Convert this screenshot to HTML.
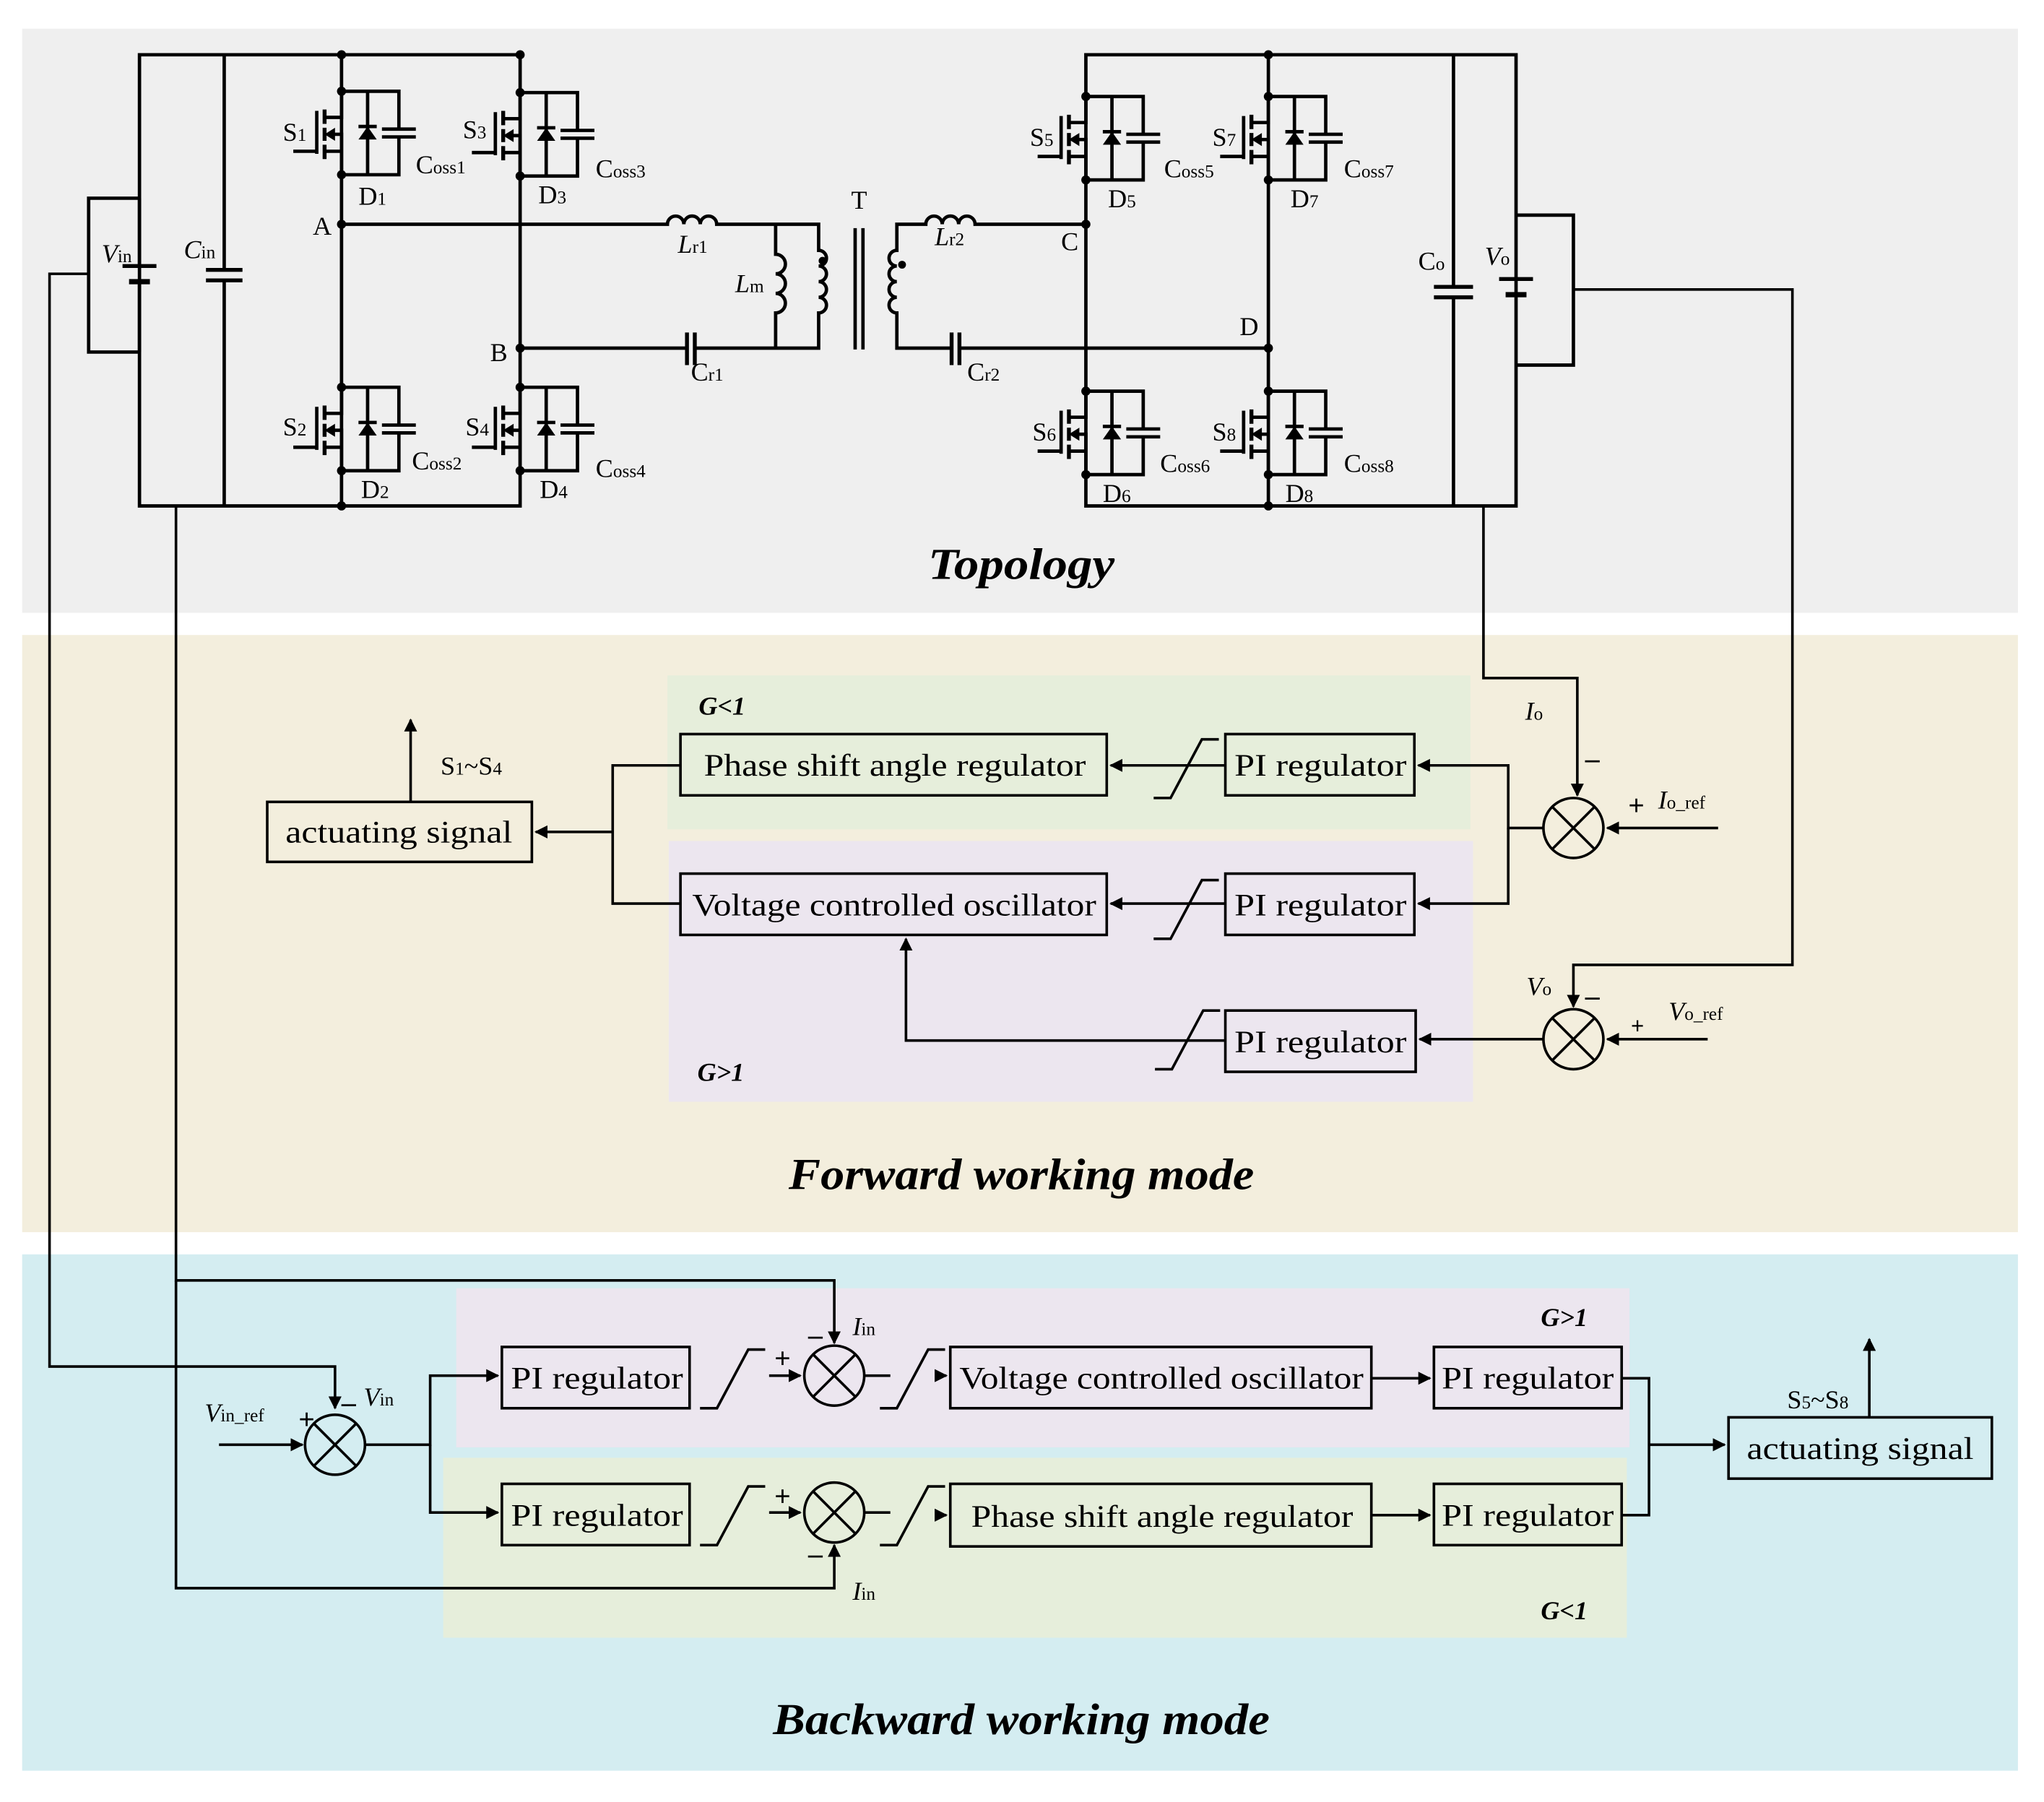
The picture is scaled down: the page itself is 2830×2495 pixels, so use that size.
<!DOCTYPE html>
<html><head><meta charset="utf-8"><style>
html,body{margin:0;padding:0;background:#fff}
svg{display:block}
text{font-family:"Liberation Serif",serif;fill:#000}
</style></head><body>
<svg xmlns="http://www.w3.org/2000/svg" width="2830" height="2495" viewBox="0 0 1568 1382" preserveAspectRatio="none">
<defs>
<marker id="ar" viewBox="0 0 10 10" refX="9" refY="5" markerWidth="5" markerHeight="5" orient="auto" markerUnits="strokeWidth"><path d="M0,0 L10,5 L0,10 z" fill="#000"/></marker>
<g id="sw" fill="none" stroke="#000" stroke-width="2.6">
<path d="M0,0 V20 H-13 M-13,46 H0 V64 M-8,33 H0 V46 M-19,15 V48 M-19,46 H-37"/>
<path d="M-13,14 V25 M-13,28 V38 M-13,41 V52" stroke-width="3"/>
<polygon points="-13,33 -5,28 -5,38" fill="#000" stroke="none"/>
<path d="M0,0 H44 V29 M44,35 V64 H0 M20,0 V64 M31,29 H57 M31,35 H57 M13,27 H27"/>
<polygon points="13,37 27,37 20,27" fill="#000" stroke="none"/>
<circle cx="0" cy="0" r="3.5" fill="#000" stroke="none"/>
<circle cx="0" cy="64" r="3.5" fill="#000" stroke="none"/>
</g>
<g id="lim" fill="none" stroke="#000" stroke-width="2"><path d="M0,45 H13 L37,0 H50"/></g>
</defs>
<rect width="1568" height="1382" fill="#fff"/>
<rect x="17" y="22" width="1531" height="448" fill="#efefef"/>
<rect x="17" y="487" width="1531" height="458" fill="#f3eedd"/>
<rect x="17" y="962" width="1531" height="396" fill="#d4edf1"/>
<rect x="512" y="518" width="616" height="118" fill="#e6eedb"/>
<rect x="513" y="645" width="617" height="200" fill="#ece6ef"/>
<rect x="350" y="988" width="900" height="122" fill="#ece6ef"/>
<rect x="340" y="1118" width="908" height="138" fill="#e6eedb"/>

<g fill="none" stroke="#000" stroke-width="2.6">
<path d="M107,42 H399 V388 H107 Z M172,42 V207 M172,215 V388 M262,42 V388"/>
<path d="M158,207 H186 M158,215 H186" stroke-width="3"/>
<path d="M107,152 H68 V270 H107 M107,152 V204 M107,216 V270"/>
<path d="M94,204 H120" stroke-width="3"/><path d="M99,216 H115" stroke-width="4"/>
<path d="M262,172 H512 a6.3,6.3 0 0 1 12.6,0 a6.3,6.3 0 0 1 12.6,0 a6.3,6.3 0 0 1 12.6,0 H628 V192 a6,6 0 0 1 0,12 a6,6 0 0 1 0,12 a6,6 0 0 1 0,12 a6,6 0 0 1 0,12 V267 H533 M527,267 H399"/>
<path d="M527,255 V280 M533,255 V280" stroke-width="3"/>
<path d="M595,172 V195 a7.5,7.5 0 0 1 0,15 a7.5,7.5 0 0 1 0,15 a7.5,7.5 0 0 1 0,15 V267"/>
<path d="M656,175 V268 M662,175 V268"/>
<path d="M833,172 H748 a6.3,6.3 0 0 0 -12.6,0 a6.3,6.3 0 0 0 -12.6,0 a6.3,6.3 0 0 0 -12.6,0 H688 V192 a6,6 0 0 0 0,12 a6,6 0 0 0 0,12 a6,6 0 0 0 0,12 a6,6 0 0 0 0,12 V267 H730 M736,267 H973"/>
<path d="M730,255 V280 M736,255 V280" stroke-width="3"/>
<path d="M833,42 H1163 V388 H833 Z M973,42 V388 M1115,42 V220 M1115,228 V388"/>
<path d="M1100,220 H1130 M1100,228 H1130" stroke-width="3"/>
<path d="M1163,165 H1207 V280 H1163"/>
<path d="M1150,214 H1176" stroke-width="3"/><path d="M1155,226 H1171" stroke-width="4"/>
</g>
<g fill="#000">
<circle cx="262" cy="42" r="3.5"/><circle cx="262" cy="172" r="3.5"/><circle cx="399" cy="267" r="3.5"/><circle cx="262" cy="388" r="3.5"/><circle cx="399" cy="42" r="3.5"/>
<circle cx="833" cy="172" r="3.5"/><circle cx="973" cy="267" r="3.5"/><circle cx="973" cy="42" r="3.5"/><circle cx="973" cy="388" r="3.5"/>
<circle cx="631" cy="200" r="3"/><circle cx="692" cy="203" r="3"/>
</g>
<use href="#sw" x="262" y="70"/><use href="#sw" x="399" y="71"/>
<use href="#sw" x="262" y="297"/><use href="#sw" x="399" y="297"/>
<use href="#sw" x="833" y="74"/><use href="#sw" x="973" y="74"/>
<use href="#sw" x="833" y="300"/><use href="#sw" x="973" y="300"/>

<g font-size="20">
<text x="217" y="108">S<tspan font-size="14">1</tspan></text>
<text x="355" y="106">S<tspan font-size="14">3</tspan></text>
<text x="217" y="334">S<tspan font-size="14">2</tspan></text>
<text x="357" y="334">S<tspan font-size="14">4</tspan></text>
<text x="790" y="112">S<tspan font-size="14">5</tspan></text>
<text x="930" y="112">S<tspan font-size="14">7</tspan></text>
<text x="792" y="338">S<tspan font-size="14">6</tspan></text>
<text x="930" y="338">S<tspan font-size="14">8</tspan></text>
<text x="275" y="157">D<tspan font-size="14">1</tspan></text>
<text x="413" y="156">D<tspan font-size="14">3</tspan></text>
<text x="277" y="382">D<tspan font-size="14">2</tspan></text>
<text x="414" y="382">D<tspan font-size="14">4</tspan></text>
<text x="850" y="159">D<tspan font-size="14">5</tspan></text>
<text x="990" y="159">D<tspan font-size="14">7</tspan></text>
<text x="846" y="385">D<tspan font-size="14">6</tspan></text>
<text x="986" y="385">D<tspan font-size="14">8</tspan></text>
<text x="319" y="133">C<tspan font-size="14">oss1</tspan></text>
<text x="457" y="136">C<tspan font-size="14">oss3</tspan></text>
<text x="316" y="360">C<tspan font-size="14">oss2</tspan></text>
<text x="457" y="366">C<tspan font-size="14">oss4</tspan></text>
<text x="893" y="136">C<tspan font-size="14">oss5</tspan></text>
<text x="1031" y="136">C<tspan font-size="14">oss7</tspan></text>
<text x="890" y="362">C<tspan font-size="14">oss6</tspan></text>
<text x="1031" y="362">C<tspan font-size="14">oss8</tspan></text>
<text x="240" y="180">A</text><text x="376" y="277">B</text>
<text x="814" y="192">C</text><text x="951" y="257">D</text>
<text x="653" y="160">T</text>
<text x="78" y="201" font-style="italic">V<tspan font-size="14" font-style="normal">in</tspan></text>
<text x="141" y="198" font-style="italic">C<tspan font-size="14" font-style="normal">in</tspan></text>
<text x="520" y="194" font-style="italic">L<tspan font-size="14" font-style="normal">r1</tspan></text>
<text x="564" y="224" font-style="italic">L<tspan font-size="14" font-style="normal">m</tspan></text>
<text x="530" y="292">C<tspan font-size="14">r1</tspan></text>
<text x="717" y="188" font-style="italic">L<tspan font-size="14" font-style="normal">r2</tspan></text>
<text x="742" y="292">C<tspan font-size="14">r2</tspan></text>
<text x="1088" y="207">C<tspan font-size="14">o</tspan></text>
<text x="1139" y="203" font-style="italic">V<tspan font-size="14" font-style="normal">o</tspan></text>
</g>

<g fill="none" stroke="#000" stroke-width="2">
<path d="M68,210 H38 V1048 H257 V1080" marker-end="url(#ar)"/>
<path d="M135,388 V982 H640 V1030" marker-end="url(#ar)"/>
<path d="M135,982 V1218 H640 V1185" marker-end="url(#ar)"/>
<path d="M1138,388 V520 H1210 V610" marker-end="url(#ar)"/>
<path d="M1207,222 H1375 V740 H1207 V772" marker-end="url(#ar)"/>
</g>

<g fill="none" stroke="#000" stroke-width="2">
<rect x="522" y="563" width="327" height="47"/>
<rect x="940" y="563" width="145" height="47"/>
<rect x="522" y="670" width="327" height="47"/>
<rect x="940" y="670" width="145" height="47"/>
<rect x="940" y="775" width="146" height="47"/>
<rect x="205" y="615" width="203" height="46"/>
<circle cx="1207" cy="635" r="23"/><path d="M1191,619 L1223,651 M1223,619 L1191,651"/>
<circle cx="1207" cy="797" r="23"/><path d="M1191,781 L1223,813 M1223,781 L1191,813"/>
<path d="M1184,635 H1157 V587 H1088" marker-end="url(#ar)"/>
<path d="M1157,635 V693 H1088" marker-end="url(#ar)"/>
<path d="M1184,797 H1089" marker-end="url(#ar)"/>
<path d="M940,587 H852" marker-end="url(#ar)"/>
<path d="M940,693 H852" marker-end="url(#ar)"/>
<path d="M940,798 H695 V720" marker-end="url(#ar)"/>
<path d="M522,587 H470 V693 H522 M470,638 H411" marker-end="url(#ar)"/>
<path d="M315,615 V552" marker-end="url(#ar)"/>
<path d="M1318,635 H1233" marker-end="url(#ar)"/>
<path d="M1310,797 H1233" marker-end="url(#ar)"/>
</g>
<use href="#lim" x="885" y="567"/><use href="#lim" x="885" y="675"/><use href="#lim" x="886" y="775"/>

<g fill="none" stroke="#000" stroke-width="2">
<rect x="385" y="1033" width="144" height="47"/>
<rect x="385" y="1138" width="144" height="47"/>
<rect x="729" y="1033" width="323" height="47"/>
<rect x="729" y="1138" width="323" height="48"/>
<rect x="1100" y="1033" width="144" height="47"/>
<rect x="1100" y="1138" width="144" height="47"/>
<rect x="1326" y="1087" width="202" height="47"/>
<circle cx="257" cy="1108" r="23"/><path d="M241,1092 L273,1124 M273,1092 L241,1124"/>
<circle cx="640" cy="1055" r="23"/><path d="M624,1039 L656,1071 M656,1039 L624,1071"/>
<circle cx="640" cy="1160" r="23"/><path d="M624,1144 L656,1176 M656,1144 L624,1176"/>
<path d="M168,1108 H232" marker-end="url(#ar)"/>
<path d="M280,1108 H330 V1055 H382" marker-end="url(#ar)"/>
<path d="M330,1108 V1160 H382" marker-end="url(#ar)"/>
<path d="M590,1055 H614" marker-end="url(#ar)"/>
<path d="M590,1160 H614" marker-end="url(#ar)"/>
<path d="M720,1055 H726" marker-end="url(#ar)"/>
<path d="M720,1162 H726" marker-end="url(#ar)"/>
<path d="M663,1055 H683 M663,1160 H683"/>
<path d="M1052,1057 H1097" marker-end="url(#ar)"/>
<path d="M1052,1162 H1097" marker-end="url(#ar)"/>
<path d="M1244,1057 H1265 V1162 H1244 M1265,1108 H1323" marker-end="url(#ar)"/>
<path d="M1434,1087 V1027" marker-end="url(#ar)"/>
</g>
<use href="#lim" x="537" y="1035"/><use href="#lim" x="537" y="1140"/>
<use href="#lim" x="675" y="1035"/><use href="#lim" x="675" y="1140"/>

<g font-size="24" lengthAdjust="spacingAndGlyphs">
<text x="540" y="595" textLength="293" lengthAdjust="spacingAndGlyphs">Phase shift angle regulator</text>
<text x="947" y="595" textLength="132" lengthAdjust="spacingAndGlyphs">PI regulator</text>
<text x="531" y="702" textLength="310" lengthAdjust="spacingAndGlyphs">Voltage controlled oscillator</text>
<text x="947" y="702" textLength="132" lengthAdjust="spacingAndGlyphs">PI regulator</text>
<text x="947" y="807" textLength="132" lengthAdjust="spacingAndGlyphs">PI regulator</text>
<text x="219" y="646" textLength="174" lengthAdjust="spacingAndGlyphs">actuating signal</text>
<text x="392" y="1065" textLength="132" lengthAdjust="spacingAndGlyphs">PI regulator</text>
<text x="392" y="1170" textLength="132" lengthAdjust="spacingAndGlyphs">PI regulator</text>
<text x="736" y="1065" textLength="310" lengthAdjust="spacingAndGlyphs">Voltage controlled oscillator</text>
<text x="745" y="1171" textLength="293" lengthAdjust="spacingAndGlyphs">Phase shift angle regulator</text>
<text x="1106" y="1065" textLength="132" lengthAdjust="spacingAndGlyphs">PI regulator</text>
<text x="1106" y="1170" textLength="132" lengthAdjust="spacingAndGlyphs">PI regulator</text>
<text x="1340" y="1119" textLength="174" lengthAdjust="spacingAndGlyphs">actuating signal</text>
</g>
<g font-size="20">
<text x="338" y="594">S<tspan font-size="14">1</tspan>~S<tspan font-size="14">4</tspan></text>
<text x="1371" y="1080">S<tspan font-size="14">5</tspan>~S<tspan font-size="14">8</tspan></text>
<text x="1170" y="552" font-style="italic">I<tspan font-size="14" font-style="normal">o</tspan></text>
<text x="1272" y="620" font-style="italic">I<tspan font-size="14" font-style="normal">o_ref</tspan></text>
<text x="1171" y="763" font-style="italic">V<tspan font-size="14" font-style="normal">o</tspan></text>
<text x="1280" y="782" font-style="italic">V<tspan font-size="14" font-style="normal">o_ref</tspan></text>
<text x="157" y="1090" font-style="italic">V<tspan font-size="14" font-style="normal">in_ref</tspan></text>
<text x="279" y="1078" font-style="italic">V<tspan font-size="14" font-style="normal">in</tspan></text>
<text x="654" y="1024" font-style="italic">I<tspan font-size="14" font-style="normal">in</tspan></text>
<text x="654" y="1227" font-style="italic">I<tspan font-size="14" font-style="normal">in</tspan></text>
</g>
<g font-size="22" font-weight="bold">
<text x="1216" y="589">–</text><text x="1249" y="625">+</text>
<text x="1216" y="771">–</text><text x="1251" y="793" font-size="18">+</text>
<text x="262" y="1083">–</text><text x="229" y="1096">+</text>
<text x="620" y="1031">–</text><text x="594" y="1049">+</text>
<text x="620" y="1199">–</text><text x="594" y="1155">+</text>
</g>
<g font-size="20" font-weight="bold" font-style="italic">
<text x="536" y="548">G&lt;1</text>
<text x="535" y="829">G&gt;1</text>
<text x="1182" y="1017">G&gt;1</text>
<text x="1182" y="1242">G&lt;1</text>
</g>
<g font-size="34" font-weight="bold" font-style="italic">
<text x="712" y="444" textLength="143" lengthAdjust="spacingAndGlyphs">Topology</text>
<text x="605" y="912" textLength="357" lengthAdjust="spacingAndGlyphs">Forward working mode</text>
<text x="593" y="1330" textLength="381" lengthAdjust="spacingAndGlyphs">Backward working mode</text>
</g>
</svg>
</body></html>
